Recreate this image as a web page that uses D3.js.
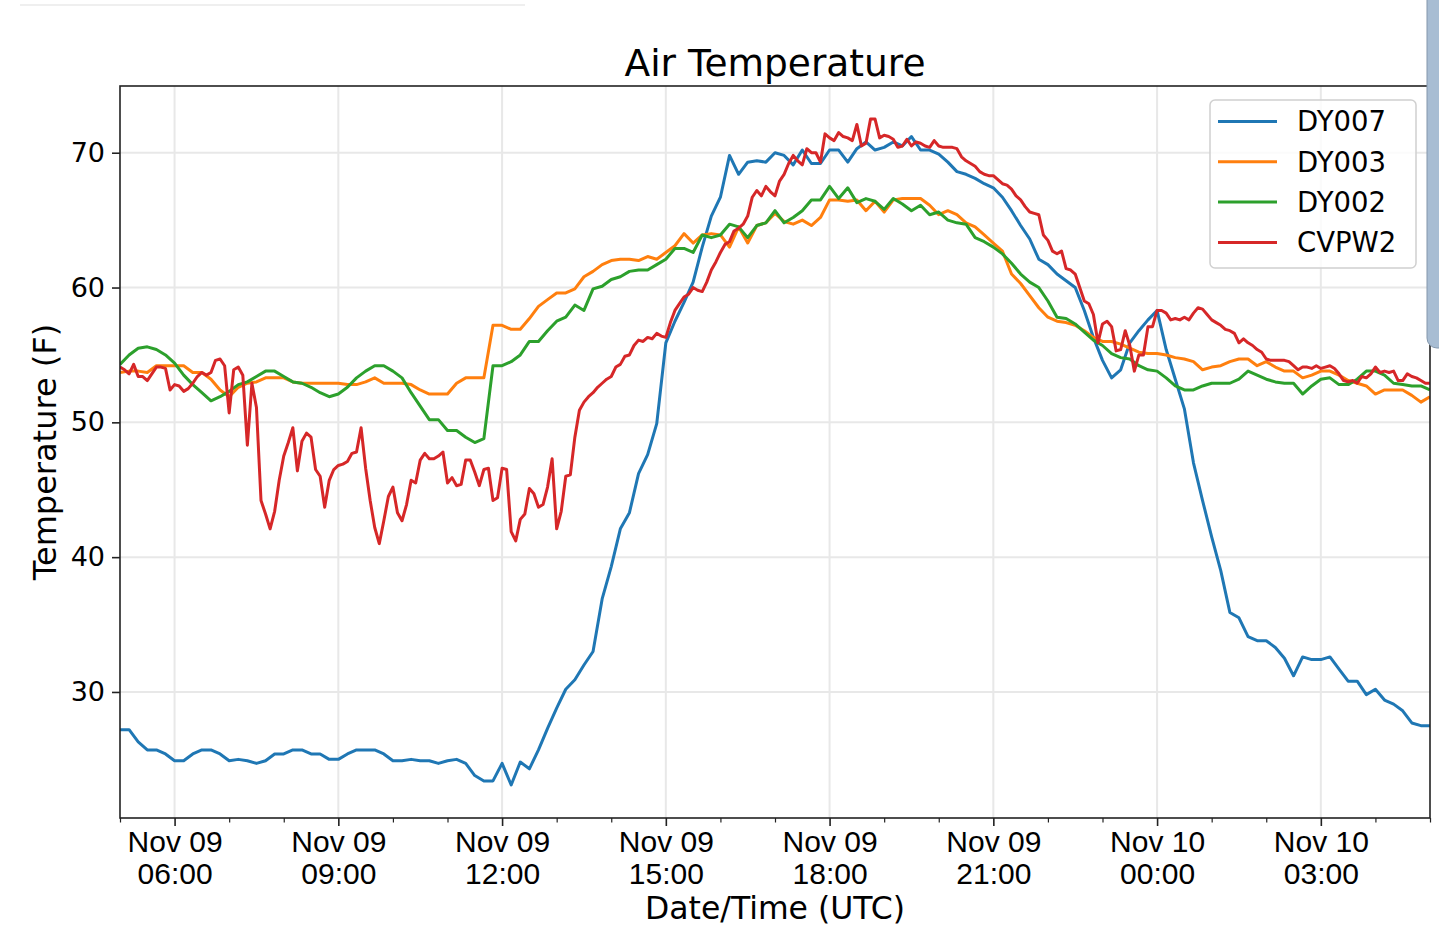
<!DOCTYPE html>
<html>
<head>
<meta charset="utf-8">
<title>Air Temperature</title>
<script src="https://cdn.jsdelivr.net/npm/d3@7"></script>
<style>
  body { margin: 0; background: #ffffff; }
  svg { display: block; font-family: "DejaVu Sans", sans-serif; }
</style>
</head>
<body>
<svg id="chart" width="1439" height="952"></svg>
<script>
  // station names, in plotting order
  const seriesNames = ['DY007', 'DY003', 'DY002', 'CVPW2'];
  const seriesColors = ['#1f77b4', '#ff7f0e', '#2ca02c', '#d62728'];

  // first reading and sampling interval (minutes) of each station
  const startTime = '2019-11-09T05:00:00Z';
  const stepMinutes = [10, 10, 10, 5];

  // DY007, every 10 min from Nov 09 05:00
  const dy007 = [
    27.2, 27.2, 26.3, 25.7, 25.7, 25.4, 24.9, 24.9, 25.4, 25.7,
    25.7, 25.4, 24.9, 25.0, 24.9, 24.7, 24.9, 25.4, 25.4, 25.7,
    25.7, 25.4, 25.4, 25.0, 25.0, 25.4, 25.7, 25.7, 25.7, 25.4,
    24.9, 24.9, 25.0, 24.9, 24.9, 24.7, 24.9, 25.0, 24.7, 23.8,
    23.4, 23.4, 24.7, 23.1, 24.8, 24.3, 25.7, 27.3, 28.8, 30.2,
    30.9, 32.0, 33.0, 36.9, 39.3, 42.1, 43.3, 46.2, 47.6, 49.9,
    55.9, 57.5, 58.9, 60.4, 63.0, 65.3, 66.7, 69.8, 68.4, 69.3,
    69.4, 69.3, 70.0, 69.8, 69.1, 70.2, 69.2, 69.2, 70.2, 70.2,
    69.3, 70.3, 70.8, 70.2, 70.4, 70.8, 70.5, 71.2, 70.2, 70.2,
    69.9, 69.3, 68.6, 68.4, 68.1, 67.7, 67.4, 66.7, 65.7, 64.6,
    63.6, 62.1, 61.7, 61.0, 60.5, 60.0, 58.3, 56.3, 54.6, 53.3,
    53.9, 55.9, 56.8, 57.6, 58.3, 55.4, 53.2, 51.0, 47.0, 44.2,
    41.5, 39.0, 35.9, 35.5, 34.1, 33.8, 33.8, 33.3, 32.5, 31.2,
    32.6, 32.4, 32.4, 32.6, 31.7, 30.8, 30.8, 29.8, 30.2, 29.4,
    29.1, 28.6, 27.7, 27.5, 27.5
  ];

  // DY003, every 10 min
  const dy003 = [
    53.7, 53.8, 53.8, 53.7, 54.2, 54.2, 54.2, 54.2, 53.7, 53.7,
    53.2, 52.4, 51.9, 52.6, 52.9, 53.0, 53.3, 53.3, 53.3, 53.0,
    52.9, 52.9, 52.9, 52.9, 52.9, 52.8, 52.8, 53.0, 53.3, 52.9,
    52.9, 52.9, 52.8, 52.4, 52.1, 52.1, 52.1, 52.9, 53.3, 53.3,
    53.3, 57.2, 57.2, 56.9, 56.9, 57.7, 58.6, 59.1, 59.6, 59.6,
    59.9, 60.8, 61.2, 61.7, 62.0, 62.1, 62.1, 62.0, 62.3, 62.1,
    62.6, 63.1, 64.0, 63.3, 63.9, 64.0, 63.9, 63.0, 64.5, 63.3,
    64.6, 64.8, 65.5, 64.9, 64.7, 65.0, 64.6, 65.2, 66.5, 66.5,
    66.4, 66.5, 65.7, 66.4, 65.6, 66.5, 66.6, 66.6, 66.6, 66.1,
    65.4, 65.7, 65.4, 64.8, 64.5, 63.9, 63.3, 62.7, 61.0, 60.3,
    59.4, 58.5, 57.8, 57.5, 57.4, 57.2, 56.8, 56.3, 56.0, 56.0,
    55.8, 55.5, 55.2, 55.1, 55.1, 55.0, 54.8, 54.7, 54.5, 53.9,
    54.1, 54.2, 54.5, 54.7, 54.7, 54.2, 54.5, 54.1, 53.8, 53.8,
    53.3, 53.5, 53.8, 53.8, 53.5, 53.1, 52.9, 52.7, 52.1, 52.4,
    52.4, 52.4, 52.0, 51.5, 51.9
  ];

  // DY002, every 10 min
  const dy002 = [
    54.3, 55.0, 55.5, 55.6, 55.4, 55.0, 54.4, 53.5, 52.8, 52.2,
    51.6, 51.9, 52.3, 52.8, 53.0, 53.4, 53.8, 53.8, 53.4, 53.0,
    52.9, 52.6, 52.2, 51.9, 52.1, 52.6, 53.3, 53.8, 54.2, 54.2,
    53.8, 53.3, 52.2, 51.2, 50.2, 50.2, 49.4, 49.4, 48.9, 48.5,
    48.8, 54.2, 54.2, 54.5, 55.0, 56.0, 56.0, 56.8, 57.5, 57.8,
    58.7, 58.3, 59.9, 60.1, 60.6, 60.8, 61.2, 61.3, 61.3, 61.7,
    62.1, 62.9, 62.9, 62.6, 63.9, 63.7, 63.9, 64.7, 64.5, 63.7,
    64.6, 64.8, 65.7, 64.8, 65.2, 65.7, 66.5, 66.5, 67.5, 66.6,
    67.4, 66.3, 66.6, 66.4, 65.8, 66.6, 66.2, 65.7, 66.1, 65.4,
    65.6, 65.0, 64.8, 64.7, 63.7, 63.4, 63.0, 62.5, 61.8, 61.0,
    60.4, 60.0, 59.0, 57.8, 57.7, 57.3, 56.7, 56.1, 55.7, 55.1,
    54.8, 54.7, 54.2, 53.9, 53.8, 53.3, 52.7, 52.4, 52.4, 52.7,
    52.9, 52.9, 52.9, 53.2, 53.8, 53.5, 53.2, 53.0, 52.9, 52.9,
    52.1, 52.7, 53.2, 53.3, 52.8, 52.8, 53.2, 53.8, 53.8, 53.5,
    52.9, 52.8, 52.7, 52.7, 52.4
  ];

  // CVPW2, every 5 min
  const cvpw2 = [
    54.1, 53.9, 53.6, 54.3, 53.4, 53.4, 53.1, 53.6, 54.1, 54.1,
    54.0, 52.4, 52.8, 52.7, 52.3, 52.5, 52.9, 53.4, 53.7, 53.5,
    53.7, 54.6, 54.7, 54.2, 50.7, 53.9, 54.1, 53.5, 48.3, 52.9,
    51.1, 44.2, 43.2, 42.1, 43.4, 45.7, 47.5, 48.5, 49.6, 46.4,
    48.6, 49.2, 48.9, 46.5, 46.0, 43.7, 45.7, 46.5, 46.8, 46.9,
    47.1, 47.7, 47.8, 49.6, 46.6, 44.2, 42.2, 41.0, 42.7, 44.5,
    45.2, 43.3, 42.7, 43.9, 45.7, 45.5, 47.2, 47.7, 47.3, 47.3,
    47.5, 47.8, 45.5, 45.9, 45.3, 45.4, 47.2, 47.2, 46.3, 45.3,
    46.5, 46.6, 44.2, 44.4, 46.6, 46.5, 41.9, 41.2, 42.8, 43.2,
    45.1, 44.7, 43.7, 43.9, 45.2, 47.3, 42.1, 43.4, 46.0, 46.1,
    48.9, 50.9, 51.5, 51.9, 52.2, 52.6, 52.9, 53.2, 53.4, 54.1,
    54.3, 54.9, 55.0, 55.7, 56.1, 56.0, 56.3, 56.2, 56.6, 56.4,
    56.3, 57.4, 58.3, 58.8, 59.3, 59.5, 60.0, 59.8, 59.7, 60.4,
    61.3, 61.9, 62.6, 63.2, 63.4, 64.2, 64.4, 64.7, 65.3, 66.7,
    67.2, 66.8, 67.5, 67.1, 66.8, 67.9, 68.4, 69.2, 69.8, 69.4,
    69.1, 70.3, 70.0, 70.0, 69.3, 71.4, 71.1, 70.9, 71.5, 71.2,
    71.1, 70.9, 72.1, 70.5, 70.7, 72.5, 72.5, 71.1, 71.3, 71.2,
    71.0, 70.4, 70.5, 71.0, 70.5, 70.8, 70.7, 70.5, 70.4, 70.9,
    70.5, 70.4, 70.4, 70.4, 70.3, 69.7, 69.4, 69.2, 69.0, 68.6,
    68.4, 68.3, 68.3, 68.0, 67.7, 67.6, 67.3, 66.8, 66.5, 66.0,
    65.6, 65.5, 65.4, 63.9, 63.5, 62.7, 62.5, 62.7, 61.4, 61.3,
    61.0, 60.0, 59.0, 58.8, 58.0, 55.9, 57.3, 57.5, 57.1, 55.3,
    55.4, 56.8, 55.7, 53.8, 55.0, 55.0, 57.1, 57.1, 58.3, 58.3,
    58.1, 57.6, 57.7, 57.6, 57.8, 57.6, 58.1, 58.5, 58.4, 58.0,
    57.6, 57.4, 57.2, 56.9, 56.8, 56.6, 55.9, 56.2, 55.9, 55.7,
    55.4, 55.2, 54.7, 54.6, 54.6, 54.6, 54.6, 54.5, 54.2, 53.9,
    54.1, 54.1, 54.0, 54.2, 54.0, 54.1, 54.2, 54.0, 53.6, 53.1,
    53.0, 53.1, 52.9, 53.4, 53.3, 53.6, 54.1, 53.7, 53.8, 53.7,
    53.8, 53.1, 53.1, 53.6, 53.4, 53.3, 53.1, 52.9, 52.9
  ];

  const yTicks = [30, 40, 50, 60, 70];
  const yDomain = [20.65, 74.95];
  const xDomain = ['2019-11-09T05:00:00Z', '2019-11-10T05:00:00Z'];

  const allValues = [dy007, dy003, dy002, cvpw2];

  const margin = { top: 86, right: 9, bottom: 134, left: 120 };
  const W = 1439, H = 952;
  const width = W - margin.left - margin.right;
  const height = H - margin.top - margin.bottom;

  const svg = d3.select('#chart');
  svg.append('rect').attr('width', W).attr('height', H).attr('fill', '#ffffff');

  // bits of the phone screenshot round the figure
  svg.append('line')
    .attr('x1', 20).attr('x2', 525).attr('y1', 5).attr('y2', 5)
    .attr('stroke', '#efefef').attr('stroke-width', 2);

  const g = svg.append('g').attr('transform', `translate(${margin.left},${margin.top})`);

  const x = d3.scaleUtc()
    .domain(xDomain.map(d => new Date(d)))
    .range([0, width]);
  const y = d3.scaleLinear().domain(yDomain).range([height, 0]);

  const t0 = new Date(startTime);
  const series = seriesNames.map((name, k) => ({
    name: name,
    color: seriesColors[k],
    points: allValues[k].map((v, i) => ({
      t: d3.utcMinute.offset(t0, i * stepMinutes[k]),
      v: v
    }))
  }));

  const majorTimes = x.ticks(d3.utcHour.every(3));
  const minorTimes = x.ticks(d3.utcHour.every(1))
    .filter(t => t.getUTCHours() % 3 !== 0);

  // grid
  g.append('g').selectAll('line').data(majorTimes).join('line')
    .attr('x1', d => x(d)).attr('x2', d => x(d))
    .attr('y1', 0).attr('y2', height)
    .attr('stroke', '#e8e8e8').attr('stroke-width', 2);
  g.append('g').selectAll('line').data(yTicks).join('line')
    .attr('x1', 0).attr('x2', width)
    .attr('y1', d => y(d)).attr('y2', d => y(d))
    .attr('stroke', '#e8e8e8').attr('stroke-width', 2);

  // lines
  g.append('clipPath').attr('id', 'plotclip')
    .append('rect').attr('width', width).attr('height', height);

  const line = d3.line().x(d => x(d.t)).y(d => y(d.v));
  g.append('g').attr('clip-path', 'url(#plotclip)')
    .selectAll('path').data(series).join('path')
    .attr('d', d => line(d.points))
    .attr('fill', 'none')
    .attr('stroke', d => d.color)
    .attr('stroke-width', 3)
    .attr('stroke-linejoin', 'round');

  // x axis
  const xAxis = g.append('g').attr('transform', `translate(0,${height})`)
    .call(d3.axisBottom(x).tickValues(majorTimes).tickSize(8).tickPadding(8)
      .tickFormat(''));
  xAxis.select('.domain').remove();
  xAxis.selectAll('.tick line').attr('stroke', '#222').attr('stroke-width', 1.6);
  xAxis.selectAll('.tick text').remove();
  const fmtDay = d3.utcFormat('%b %d');
  const fmtHour = d3.utcFormat('%H:%M');
  xAxis.selectAll('.tick').append('text')
    .attr('fill', '#000')
    .attr('font-size', 30)
    .attr('text-anchor', 'middle')
    .each(function (d) {
      const t = d3.select(this);
      t.append('tspan').attr('x', 0).attr('y', 34).text(fmtDay(d));
      t.append('tspan').attr('x', 0).attr('y', 66).text(fmtHour(d));
    });

  g.append('g').attr('transform', `translate(0,${height})`)
    .call(d3.axisBottom(x).tickValues(minorTimes).tickSize(4.5).tickFormat(''))
    .call(a => a.select('.domain').remove())
    .call(a => a.selectAll('.tick line').attr('stroke', '#222').attr('stroke-width', 1.2));

  // y axis
  const yAxis = g.append('g')
    .call(d3.axisLeft(y).tickValues(yTicks).tickSize(8).tickPadding(7));
  yAxis.select('.domain').remove();
  yAxis.selectAll('.tick line').attr('stroke', '#222').attr('stroke-width', 1.6);
  yAxis.selectAll('.tick text')
    .attr('fill', '#000')
    .attr('font-size', 27)
    .attr('font-family', '"DejaVu Sans", sans-serif');

  // frame
  g.append('rect')
    .attr('width', width).attr('height', height)
    .attr('fill', 'none').attr('stroke', '#222').attr('stroke-width', 1.6);

  // labels
  svg.append('text')
    .attr('x', margin.left + width / 2).attr('y', 76)
    .attr('text-anchor', 'middle').attr('font-size', 37.5).attr('fill', '#000')
    .text('Air Temperature');
  svg.append('text')
    .attr('x', margin.left + width / 2).attr('y', 919)
    .attr('text-anchor', 'middle').attr('font-size', 31.5).attr('fill', '#000')
    .text('Date/Time (UTC)');
  svg.append('text')
    .attr('transform', `translate(56,${margin.top + height / 2}) rotate(-90)`)
    .attr('text-anchor', 'middle').attr('font-size', 32).attr('fill', '#000')
    .text('Temperature (F)');

  // legend
  const legend = svg.append('g').attr('transform', 'translate(1210,100)');
  legend.append('rect')
    .attr('width', 206).attr('height', 168).attr('rx', 5)
    .attr('fill', '#ffffff').attr('fill-opacity', 0.8)
    .attr('stroke', '#d0d0d0').attr('stroke-width', 1.5);
  const items = legend.selectAll('g.item').data(series).join('g')
    .attr('class', 'item')
    .attr('transform', (d, k) => `translate(0,${21.5 + k * 40.3})`);
  items.append('line')
    .attr('x1', 8).attr('x2', 67)
    .attr('stroke', d => d.color).attr('stroke-width', 3);
  items.append('text')
    .attr('x', 87).attr('dy', '0.36em')
    .attr('font-size', 27.5).attr('fill', '#000')
    .text(d => d.name);

  // side tab of the screenshot
  svg.append('rect')
    .attr('x', 1427).attr('y', -12).attr('width', 24).attr('height', 360).attr('rx', 10)
    .attr('fill', '#a8bdd3').attr('stroke', '#8396ab').attr('stroke-width', 1);
</script>
</body>
</html>
